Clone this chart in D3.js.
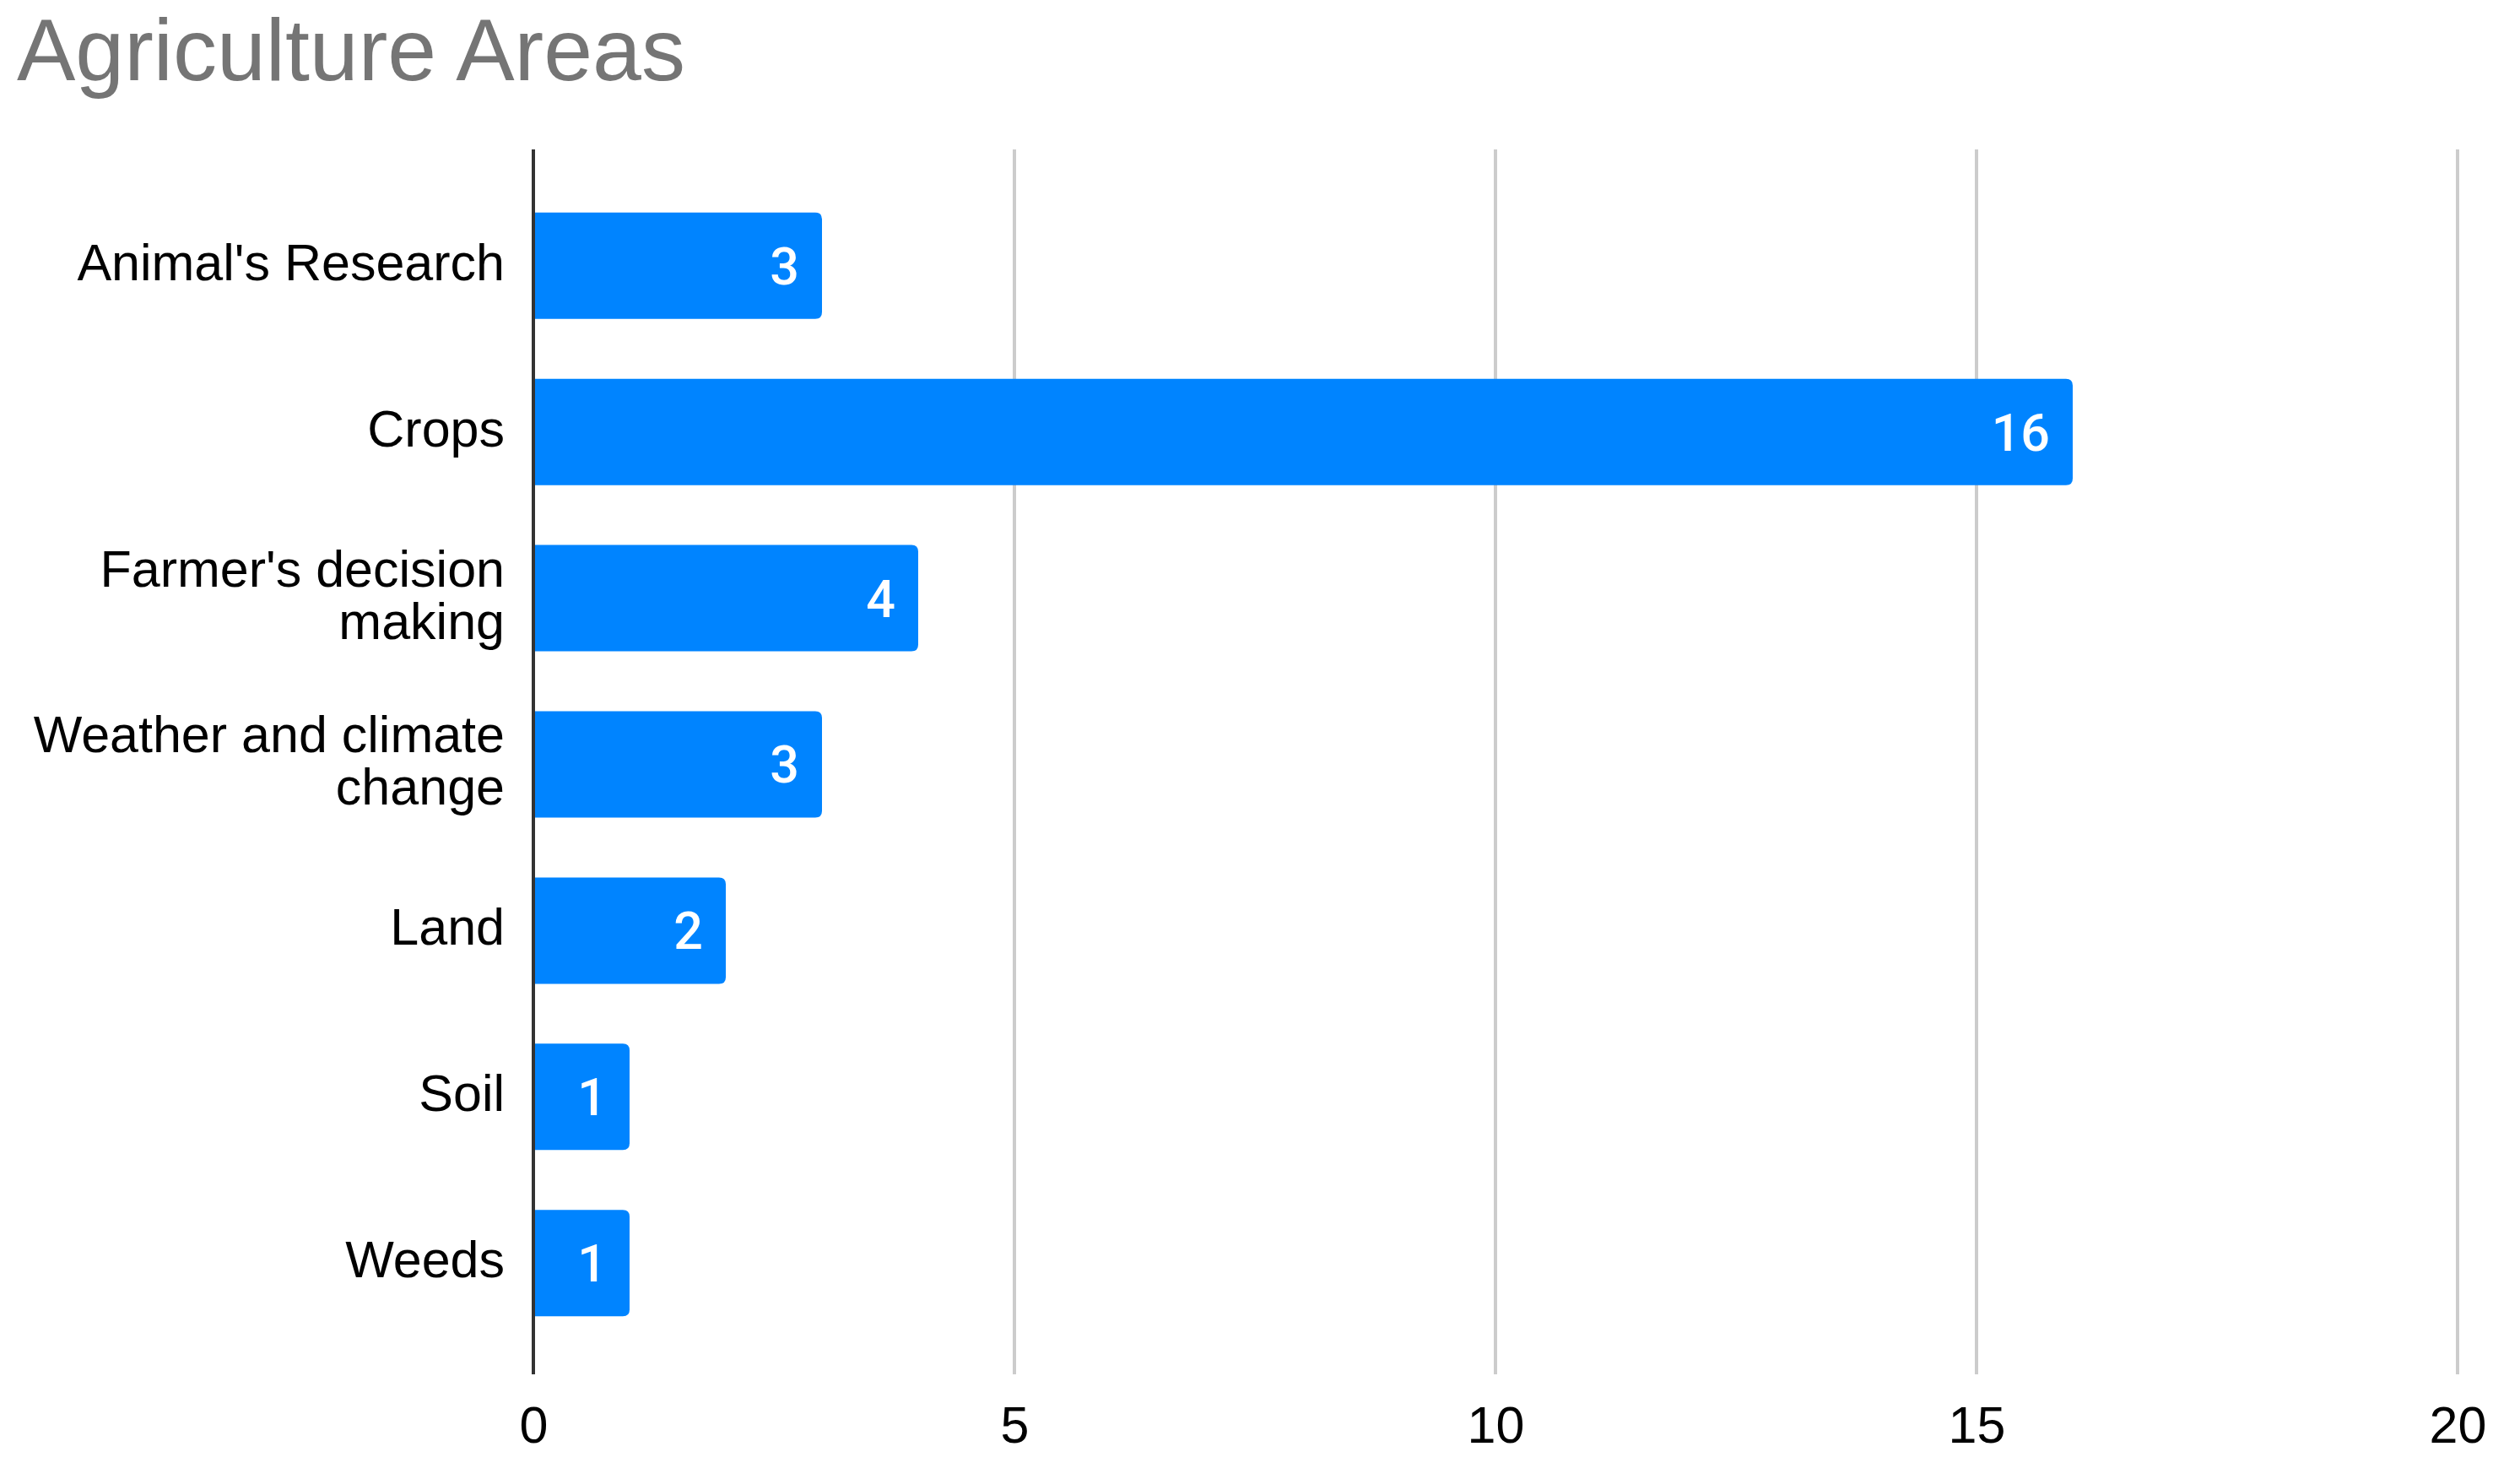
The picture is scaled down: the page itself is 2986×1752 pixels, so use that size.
<!DOCTYPE html>
<html>
<head>
<meta charset="utf-8">
<script src="https://cdn.jsdelivr.net/npm/d3@7"></script>
<style>
  body { margin: 0; background: #fff; }
  text { font-family: "Liberation Sans", Arial, sans-serif; }
</style>
</head>
<body>
<div id="chart"></div>
<script>
const categories = ["Animal's Research", "Crops", "Farmer's decision making", "Weather and climate change", "Land", "Soil", "Weeds"];
const values = [3, 16, 4, 3, 2, 1, 1];
const xTicks = [0, 5, 10, 15, 20];
const title = "Agriculture Areas";

const width = 2986, height = 1752;
const plot = {left: 632, right: 2912, top: 177, bottom: 1628};

const svg = d3.select("#chart").append("svg")
  .attr("width", width)
  .attr("height", height);

const x = d3.scaleLinear().domain([0, 20]).range([plot.left, plot.right]);
const y = d3.scaleBand().domain(categories).range([plot.top + 3, plot.bottom + 3])
  .paddingInner(0.36).paddingOuter(0.365);

svg.append("text")
  .attr("x", 20).attr("y", 95)
  .attr("font-size", 104)
  .attr("fill", "#757575")
  .text(title);

// gridlines
svg.append("g").selectAll("line")
  .data(xTicks.filter(d => d > 0))
  .join("line")
  .attr("x1", d => x(d)).attr("x2", d => x(d))
  .attr("y1", plot.top).attr("y2", plot.bottom)
  .attr("stroke", "#cccccc").attr("stroke-width", 4);

// bars, rounded on the right end only
const r = 8;
const data = categories.map((c, i) => ({cat: c, val: values[i]}));
svg.append("g").selectAll("path")
  .data(data)
  .join("path")
  .attr("fill", "#0084ff")
  .attr("d", d => {
    const x0 = x(0), x1 = x(d.val), y0 = y(d.cat), h = y.bandwidth();
    return `M${x0},${y0}H${x1 - r}Q${x1},${y0} ${x1},${y0 + r}V${y0 + h - r}Q${x1},${y0 + h} ${x1 - r},${y0 + h}H${x0}Z`;
  });

// value labels
svg.append("g").selectAll("text")
  .data(data)
  .join("text")
  .attr("x", d => x(d.val) - 27)
  .attr("y", d => y(d.cat) + y.bandwidth() / 2)
  .attr("dy", "0.36em")
  .attr("text-anchor", "end")
  .attr("font-size", 61)
  .attr("font-weight", 500)
  .style("font-family", "Roboto, sans-serif")
  .attr("fill", "#fff")
  .text(d => d.val);

// zero axis line
svg.append("line")
  .attr("x1", x(0)).attr("x2", x(0))
  .attr("y1", plot.top).attr("y2", plot.bottom)
  .attr("stroke", "#333").attr("stroke-width", 4);

// category labels, wrapped
const labelW = 585, lineH = 62;
const labels = svg.append("g").selectAll("text")
  .data(categories)
  .join("text")
  .attr("text-anchor", "end")
  .attr("font-size", 61)
  .attr("fill", "#000");

labels.each(function(c) {
  const t = d3.select(this);
  const words = c.split(" ");
  const lines = [];
  let cur = [];
  const probe = t.append("tspan");
  words.forEach(w => {
    probe.text([...cur, w].join(" "));
    if (cur.length && probe.node().getComputedTextLength() > labelW) {
      lines.push(cur.join(" "));
      cur = [w];
    } else cur.push(w);
  });
  lines.push(cur.join(" "));
  probe.remove();
  const cy = y(c) + y.bandwidth() / 2 - 5;
  lines.forEach((ln, i) => {
    t.append("tspan")
      .attr("x", plot.left - 34)
      .attr("y", cy + (i - (lines.length - 1) / 2) * lineH)
      .attr("dy", "0.36em")
      .text(ln);
  });
});

// x axis tick labels
const xAxis = svg.append("g")
  .attr("transform", `translate(0,${plot.bottom})`)
  .call(d3.axisBottom(x).tickValues(xTicks).tickSize(0).tickPadding(38));
xAxis.select(".domain").remove();
xAxis.selectAll("text")
  .attr("font-size", 61)
  .style("font-family", "\"Liberation Sans\", Arial, sans-serif")
  .attr("fill", "#000");
</script>
</body>
</html>
